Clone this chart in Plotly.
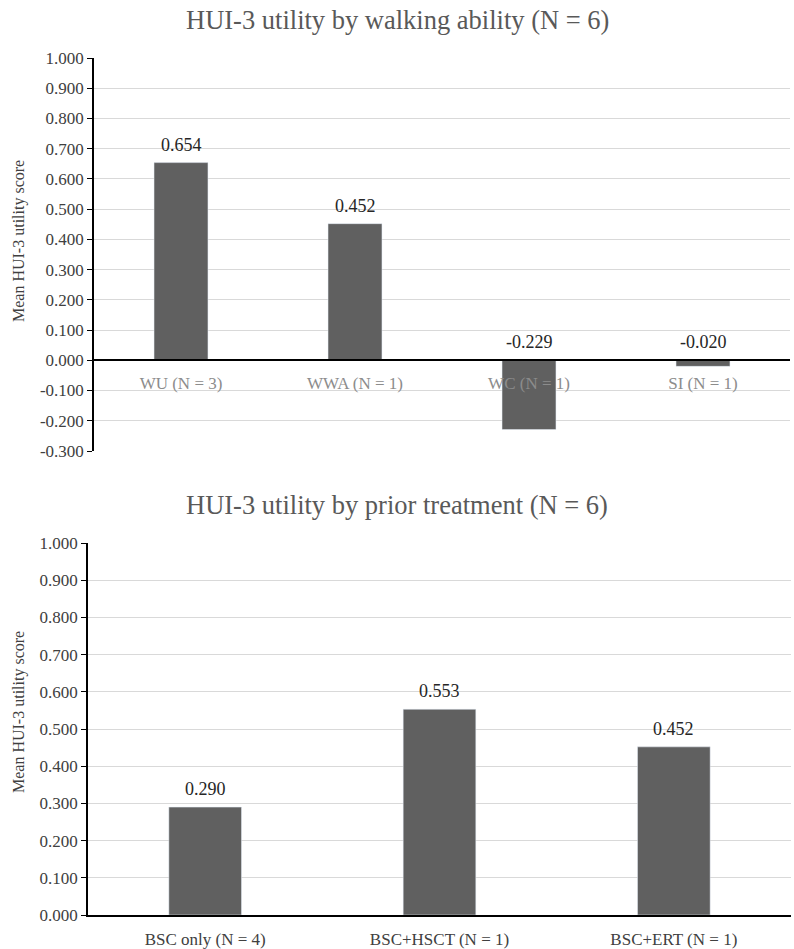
import plotly.graph_objects as go

# data
walk_cats = ["WU (N = 3)", "WWA (N = 1)", "WC (N = 1)", "SI (N = 1)"]
walk_vals = [0.654, 0.452, -0.229, -0.020]
treat_cats = ["BSC only (N = 4)", "BSC+HSCT (N = 1)", "BSC+ERT (N = 1)"]
treat_vals = [0.290, 0.553, 0.452]
walk_ticks = [-0.3, -0.2, -0.1, 0.0, 0.1, 0.2, 0.3, 0.4, 0.5, 0.6, 0.7, 0.8, 0.9, 1.0]
treat_ticks = [0.0, 0.1, 0.2, 0.3, 0.4, 0.5, 0.6, 0.7, 0.8, 0.9, 1.0]

W, H = 794, 949
FONT = "Liberation Serif, Times New Roman, serif"
BAR = "#606060"
GRID = "#d9d9d9"


def px_x(p):
    return p / W


def px_y(p):
    return 1 - p / H


def fmt(v):
    # plain hyphen for negatives, as in the source chart
    return f"{v:.3f}"


top_dom = [px_y(451), px_y(58)]
bot_dom = [px_y(915), px_y(543)]
top_rng = [walk_ticks[0], walk_ticks[-1]]
bot_rng = [treat_ticks[0], treat_ticks[-1]]
# x axis of the top panel sits on the zero line
top_zero = top_dom[0] + (0 - top_rng[0]) / (top_rng[1] - top_rng[0]) * (top_dom[1] - top_dom[0])

fig = go.Figure()
fig.add_trace(go.Bar(x=walk_cats, y=walk_vals, marker_color=BAR, width=0.31,
                     xaxis="x", yaxis="y", hoverinfo="skip"))
fig.add_trace(go.Bar(x=treat_cats, y=treat_vals, marker_color=BAR, width=0.31,
                     xaxis="x2", yaxis="y2", hoverinfo="skip"))

# value labels, negative ones sit above the zero line
for cats, vals, xr, yr in [(walk_cats, walk_vals, "x", "y"), (treat_cats, treat_vals, "x2", "y2")]:
    for c, v in zip(cats, vals):
        fig.add_annotation(x=c, y=max(v, 0), xref=xr, yref=yr, text=fmt(v),
                           showarrow=False, yanchor="middle", yshift=18,
                           font=dict(size=18, color="#262626", family=FONT))

yax = dict(showgrid=True, gridcolor=GRID, gridwidth=1, zeroline=False,
           showline=True, linecolor="black", linewidth=1.5, automargin=False,
           ticks="outside", ticklen=5, tickcolor="black",
           tickfont=dict(size=17, color="#404040", family=FONT))

fig.update_layout(
    width=W, height=H,
    margin=dict(l=0, r=0, t=0, b=0),
    paper_bgcolor="white", plot_bgcolor="white",
    showlegend=False,
    font=dict(family=FONT),
    xaxis=dict(domain=[px_x(94), px_x(790)], anchor="free", position=top_zero,
               showline=True, linecolor="black", linewidth=1.5, ticks="",
               ticklabelstandoff=8, automargin=False,
               tickfont=dict(size=17, color="#8c8c8c", family=FONT)),
    yaxis=dict(domain=top_dom, range=top_rng, anchor="x",
               tickvals=walk_ticks, ticktext=[fmt(t) for t in walk_ticks], **yax),
    xaxis2=dict(domain=[px_x(88), px_x(791)], anchor="y2",
                showline=True, linecolor="black", linewidth=1.5, ticks="",
                ticklabelstandoff=8, automargin=False,
                tickfont=dict(size=17, color="#404040", family=FONT)),
    yaxis2=dict(domain=bot_dom, range=bot_rng, anchor="x2",
                tickvals=treat_ticks, ticktext=[fmt(t) for t in treat_ticks], **yax),
)

titles = [("HUI-3 utility by walking ability (N = 6)", 20),
          ("HUI-3 utility by prior treatment (N = 6)", 505)]
for txt, yp in titles:
    fig.add_annotation(text=txt, x=0.5, y=px_y(yp), xref="paper", yref="paper",
                       showarrow=False, xanchor="center", yanchor="middle",
                       font=dict(size=26.5, color="#595959", family=FONT))

for xp, yp in [(19, 241), (19, 712)]:
    fig.add_annotation(text="Mean HUI-3 utility score", x=px_x(xp), y=px_y(yp),
                       xref="paper", yref="paper", showarrow=False, textangle=-90,
                       xanchor="center", yanchor="middle",
                       font=dict(size=16, color="#404040", family=FONT))

# page body has a default 8px margin; drop it so the figure fills the window
fig.write_html("out.html", config={"displayModeBar": False},
               post_script="document.body.style.margin='0';")
